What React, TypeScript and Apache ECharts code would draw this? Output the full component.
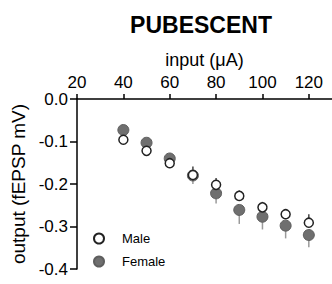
import React, { useEffect, useRef } from "react";
import * as echarts from "echarts";

const inputs = [40, 50, 60, 70, 80, 90, 100, 110, 120];
const maleMean = [-0.096, -0.122, -0.151, -0.179, -0.202, -0.228, -0.255, -0.271, -0.291];
const maleErr = [0.005, 0.005, 0.005, 0.02, 0.016, 0.013, 0.013, 0.012, 0.02];
const femaleMean = [-0.073, -0.103, -0.14, -0.18, -0.222, -0.261, -0.277, -0.298, -0.32];
const femaleErr = [0.005, 0.005, 0.008, 0.02, 0.024, 0.033, 0.03, 0.03, 0.029];
const xTicks = [20, 40, 60, 80, 100, 120];
const yTicks = [0, -0.1, -0.2, -0.3, -0.4];

const FONT = "'Liberation Sans', Arial, sans-serif";

function errSeries(name: string, means: number[], errs: number[], dir: number, color: string, z: number) {
  return {
    type: "custom",
    name: name + " err",
    z,
    silent: true,
    data: inputs.map((x, i) => [x, means[i], errs[i]]),
    encode: { x: 0, y: 1 },
    renderItem: (params: any, api: any) => {
      const x = api.value(0);
      const m = api.value(1);
      const e = api.value(2);
      const p0 = api.coord([x, m]);
      const p1 = api.coord([x, m + dir * e]);
      return {
        type: "line",
        shape: { x1: p0[0], y1: p0[1], x2: p1[0], y2: p1[1] },
        style: { stroke: color, lineWidth: 1.5 },
      };
    },
  };
}

export default function App() {
  const ref = useRef<HTMLDivElement>(null);
  useEffect(() => {
    if (!ref.current) return;
    const chart = echarts.init(ref.current, undefined, { renderer: "svg" });
    chart.setOption({
      animation: false,
      backgroundColor: "#ffffff",
      textStyle: { fontFamily: FONT },
      title: {
        text: "PUBESCENT",
        left: 196,
        top: 8,
        textAlign: "center",
        textStyle: { fontFamily: FONT, fontWeight: "bold", fontSize: 23, color: "#000" },
      },
      legend: {
        left: 88,
        top: 227,
        orient: "vertical",
        itemWidth: 10,
        itemHeight: 10,
        itemGap: 10,
        textStyle: { fontFamily: FONT, fontSize: 13, color: "#000", padding: [0, 0, 0, 13] },
        data: [
          { name: "Male", icon: "circle" },
          { name: "Female", icon: "circle" },
        ],
      },
      grid: { left: 77, top: 99, width: 256, height: 170 },
      xAxis: {
        type: "value",
        position: "top",
        min: 20,
        max: 130,
        interval: 20,
        name: "input (μA)",
        nameLocation: "middle",
        nameGap: 29,
        nameTextStyle: { fontFamily: FONT, fontSize: 18, color: "#000" },
        splitLine: { show: false },
        axisLine: { lineStyle: { color: "#000", width: 1.5 } },
        axisTick: { show: true, length: 5, lineStyle: { color: "#000", width: 1.5 } },
        axisLabel: {
          showMaxLabel: false,
          margin: 8,
          fontFamily: FONT,
          fontSize: 17,
          color: "#000",
          formatter: (v: number) => (xTicks.includes(v) ? String(v) : ""),
        },
      },
      yAxis: {
        type: "value",
        min: -0.4,
        max: 0,
        interval: 0.1,
        name: "output (fEPSP mV)",
        nameLocation: "middle",
        nameGap: 32,
        nameTextStyle: { fontFamily: FONT, fontSize: 19, color: "#000" },
        splitLine: { show: false },
        axisLine: { show: true, lineStyle: { color: "#000", width: 1.5 } },
        axisTick: { show: true, length: 7, lineStyle: { color: "#000", width: 1.5 } },
        axisLabel: {
          margin: 9,
          fontFamily: FONT,
          fontSize: 17,
          color: "#000",
          formatter: (v: number) => {
            const t = yTicks.find((k) => Math.abs(k - v) < 1e-6);
            return t === undefined ? "" : t.toFixed(1);
          },
        },
      },
      series: [
        errSeries("Female", femaleMean, femaleErr, -1, "#9a9a9a", 1),
        errSeries("Male", maleMean, maleErr, 1, "#444444", 1),
        {
          type: "scatter",
          name: "Female",
          z: 3,
          symbol: "circle",
          symbolSize: 11,
          itemStyle: { color: "#6f6f6f", borderColor: "#5e5e5e", borderWidth: 1, opacity: 1 },
          data: inputs.map((x, i) => [x, femaleMean[i]]),
        },
        {
          type: "scatter",
          name: "Male",
          z: 4,
          symbol: "circle",
          symbolSize: 9,
          itemStyle: { color: "#ffffff", borderColor: "#222222", borderWidth: 1.5, opacity: 1 },
          data: inputs.map((x, i) => [x, maleMean[i]]),
        },
      ],
    });
    return () => chart.dispose();
  }, []);
  return (
    <div
      ref={ref}
      style={{ position: "fixed", left: 0, top: 0, width: 332, height: 284, background: "#fff" }}
    />
  );
}
